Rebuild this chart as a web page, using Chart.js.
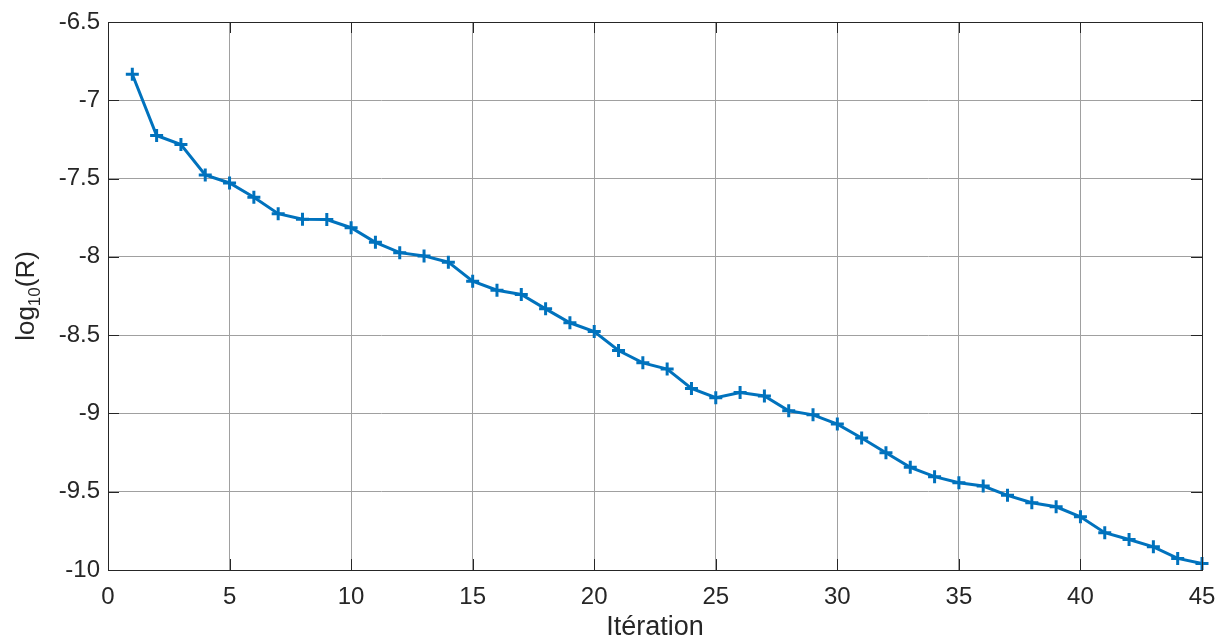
<!DOCTYPE html>
<html>
<head>
<meta charset="utf-8">
<script src="https://cdn.jsdelivr.net/npm/chart.js@4/dist/chart.umd.min.js"></script>
<style>
  html, body { margin: 0; padding: 0; background: #ffffff; }
  #wrap { width: 1219px; height: 642px; position: relative; }
</style>
</head>
<body>
<div id="wrap"><canvas id="c" width="1219" height="642"></canvas></div>
<script>
// ---- data ----
const iterations = [1,2,3,4,5,6,7,8,9,10,11,12,13,14,15,16,17,18,19,20,21,22,23,24,25,26,27,28,29,30,31,32,33,34,35,36,37,38,39,40,41,42,43,44,45];
const log10R = [-6.834,-7.225,-7.283,-7.477,-7.528,-7.619,-7.724,-7.760,-7.762,-7.814,
                -7.907,-7.973,-7.994,-8.034,-8.155,-8.213,-8.240,-8.332,-8.421,-8.477,
                -8.598,-8.677,-8.717,-8.840,-8.900,-8.866,-8.889,-8.983,-9.009,-9.068,
                -9.157,-9.251,-9.344,-9.404,-9.443,-9.464,-9.523,-9.570,-9.596,-9.660,
                -9.762,-9.805,-9.852,-9.926,-9.958];
const xTicks = [0,5,10,15,20,25,30,35,40,45];
const yTicks = [-10,-9.5,-9,-8.5,-8,-7.5,-7,-6.5];
const xTitle = 'Itération';

const TXT = '#262626';
const FONT = "'Liberation Sans', Arial, sans-serif";

const boxPlugin = {
  id: 'boxPlugin',
  afterDraw(chart) {
    const {ctx, chartArea: a, scales} = chart;
    ctx.save();
    ctx.strokeStyle = TXT;
    ctx.lineWidth = 1;
    const tl = 11;
    xTicks.forEach(v => {
      const x = Math.round(scales.x.getPixelForValue(v)) + 0.5;
      ctx.beginPath();
      ctx.moveTo(x, a.bottom); ctx.lineTo(x, a.bottom - tl);
      ctx.moveTo(x, a.top); ctx.lineTo(x, a.top + tl);
      ctx.stroke();
    });
    yTicks.forEach(v => {
      const y = Math.round(scales.y.getPixelForValue(v)) + 0.5;
      ctx.beginPath();
      ctx.moveTo(a.left, y); ctx.lineTo(a.left + tl, y);
      ctx.moveTo(a.right, y); ctx.lineTo(a.right - tl, y);
      ctx.stroke();
    });
    ctx.strokeRect(Math.round(a.left) + 0.5, Math.round(a.top) + 0.5,
                   Math.round(a.right - a.left), Math.round(a.bottom - a.top));
    // y title with subscript
    ctx.fillStyle = TXT;
    ctx.textBaseline = 'alphabetic';
    const big = "26px " + FONT, small = "17px " + FONT;
    ctx.font = big; const w1 = ctx.measureText('log').width;
    ctx.font = small; const w2 = ctx.measureText('10').width;
    ctx.font = big; const w3 = ctx.measureText('(R)').width;
    const total = w1 + w2 + w3;
    ctx.translate(34, (a.top + a.bottom) / 2);
    ctx.rotate(-Math.PI / 2);
    let x0 = -total / 2;
    ctx.font = big; ctx.fillText('log', x0, 0); x0 += w1;
    ctx.font = small; ctx.fillText('10', x0, 6); x0 += w2;
    ctx.font = big; ctx.fillText('(R)', x0, 0);
    ctx.restore();
  }
};

new Chart(document.getElementById('c'), {
  type: 'line',
  data: {
    datasets: [{
      data: iterations.map((it, i) => ({x: it, y: log10R[i]})),
      borderColor: '#0072BD',
      backgroundColor: '#0072BD',
      borderWidth: 3,
      pointStyle: 'cross',
      pointRadius: 6.5,
      pointBorderWidth: 3,
      pointHoverRadius: 6.5,
      fill: false,
      tension: 0,
      clip: false
    }]
  },
  options: {
    responsive: false,
    animation: false,
    events: [],
    layout: { padding: { left: 0, right: 17, top: 22, bottom: 0 } },
    plugins: { legend: { display: false }, tooltip: { enabled: false } },
    scales: {
      x: {
        type: 'linear',
        min: 0, max: 45,
        afterFit: s => { s.height = 72; s.paddingRight = 0; s.paddingLeft = 0; },
        afterBuildTicks: s => { s.ticks = xTicks.map(v => ({value: v})); },
        grid: { color: '#a0a0a0', lineWidth: 1, drawTicks: false },
        border: { display: false },
        ticks: { color: TXT, font: { family: FONT, size: 24 }, padding: 13, maxRotation: 0, autoSkip: false },
        title: { display: true, text: xTitle, color: TXT, font: { family: FONT, size: 27, lineHeight: 1.1 }, padding: 0 }
      },
      y: {
        type: 'linear',
        min: -10, max: -6.5,
        afterFit: s => { s.width = 108; s.paddingTop = 0; s.paddingBottom = 0; },
        afterBuildTicks: s => { s.ticks = yTicks.map(v => ({value: v})); },
        grid: { color: '#a0a0a0', lineWidth: 1, drawTicks: false },
        border: { display: false },
        ticks: { color: TXT, font: { family: FONT, size: 24 }, padding: 8, autoSkip: false,
                 callback: v => String(v) }
      }
    }
  },
  plugins: [boxPlugin]
});
</script>
</body>
</html>
